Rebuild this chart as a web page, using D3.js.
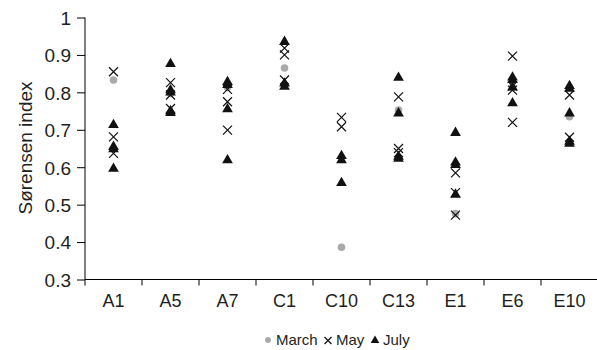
<!DOCTYPE html>
<html><head><meta charset="utf-8">
<script src="https://cdn.jsdelivr.net/npm/d3@7"></script>
<style>body{margin:0;background:#fff}svg{display:block}text{font-family:"Liberation Sans",Arial,sans-serif}</style>
</head><body><svg id="c" width="597" height="350"></svg>
<script>
const categories = ["A1","A5","A7","C1","C10","C13","E1","E6","E10"];
const yTicks = [0.3,0.4,0.5,0.6,0.7,0.8,0.9,1];
const yTickLabels = ["0.3","0.4","0.5","0.6","0.7","0.8","0.9","1"];
const marchValues = [[0.833],[0.797],[0.813],[0.865],[0.386],[0.753],[0.476],[0.813],[0.735]];
const mayValues = [[0.855,0.681,0.637],[0.826,0.793,0.757],[0.808,0.775,0.699],[0.918,0.900,0.833],[0.733,0.708],[0.788,0.650,0.639],[0.585,0.532,0.472],[0.897,0.817,0.806,0.720],[0.793,0.680]];
const julyValues = [[0.713,0.655,0.648,0.596],[0.876,0.806,0.800,0.750,0.745],[0.828,0.820,0.755,0.619],[0.935,0.824,0.815],[0.630,0.619,0.558],[0.839,0.744,0.628,0.623],[0.692,0.613,0.606,0.527],[0.840,0.833,0.813,0.771],[0.817,0.810,0.744,0.668,0.663]];
const legendLabels = ["March","May","July"];

const svg = d3.select("#c");
const x = d3.scaleBand().domain(categories).range([85, 598]);
const y = d3.scaleLinear().domain([0.3, 1]).range([279.5, 17.5]);
const txt = "#231f20";

// axes
const yAx = svg.append("g").attr("transform","translate(85,0)")
  .call(d3.axisLeft(y).tickValues(yTicks).tickFormat((d,i)=>yTickLabels[i]).tickSize(8).tickPadding(6));
yAx.select(".domain").attr("d","M0,17.5V279.5");
yAx.selectAll("text").attr("font-size","19px").attr("fill",txt).attr("dy","0.36em");
const xAx = svg.append("g").attr("transform","translate(0,279.5)")
  .call(d3.axisBottom(x).tickSize(0).tickPadding(0));
xAx.select(".domain").attr("d","M85,0H598");
xAx.selectAll("text").attr("font-size","18px").attr("fill",txt).attr("dy","0").attr("y",27.5);
// boundary ticks between categories
xAx.selectAll(".bt").data(categories).enter().append("line").attr("class","bt")
  .attr("x1",d=>x(d)).attr("x2",d=>x(d)).attr("y1",0).attr("y2",6).attr("stroke","#000");
svg.selectAll(".domain, .tick line").attr("stroke","#000");

svg.append("text").attr("transform","translate(32,148) rotate(-90)").attr("text-anchor","middle")
  .attr("font-size","19px").attr("fill",txt).text("Sørensen index");

function flat(arr){ const out=[]; arr.forEach((vs,i)=>vs.forEach(v=>out.push({c:categories[i],v}))); return out; }
const cx = d => x(d.c) + x.bandwidth()/2;
const tri = d3.symbol().type(d3.symbolTriangle).size(50);

svg.selectAll(".m").data(flat(marchValues)).enter().append("circle")
  .attr("cx",cx).attr("cy",d=>y(d.v)).attr("r",3.8).attr("fill","#aaa");
function cross(g, px, py, s){
  g.append("path").attr("d",`M${px-s},${py-s}L${px+s},${py+s}M${px-s},${py+s}L${px+s},${py-s}`)
   .attr("stroke","#111").attr("stroke-width",1.2).attr("fill","none");
}
const gm = svg.append("g");
flat(mayValues).forEach(d=>cross(gm, cx(d), y(d.v), 4.5));
svg.selectAll(".j").data(flat(julyValues)).enter().append("path")
  .attr("d",tri).attr("transform",d=>`translate(${cx(d)},${y(d.v)})`).attr("fill","#111");

// legend
const lg = svg.append("g");
lg.append("circle").attr("cx",268).attr("cy",340).attr("r",3).attr("fill","#aaa");
lg.append("text").attr("x",276).attr("y",345).attr("font-size","15px").attr("fill",txt).text(legendLabels[0]);
cross(lg, 328, 340.5, 3.5);
lg.append("text").attr("x",336).attr("y",345).attr("font-size","15px").attr("fill",txt).text(legendLabels[1]);
lg.append("path").attr("d",d3.symbol().type(d3.symbolTriangle).size(32)()).attr("transform","translate(375,340.5)").attr("fill","#111");
lg.append("text").attr("x",383).attr("y",345).attr("font-size","15px").attr("fill",txt).text(legendLabels[2]);
</script></body></html>
